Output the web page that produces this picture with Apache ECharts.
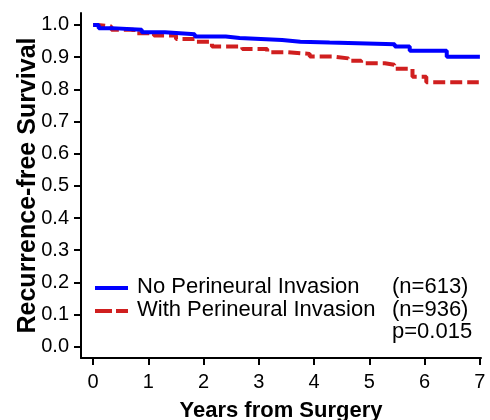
<!DOCTYPE html>
<html>
<head>
<meta charset="utf-8">
<script src="https://cdn.jsdelivr.net/npm/echarts@6/dist/echarts.min.js"></script>
<style>html,body{margin:0;padding:0;background:#fff}#c{width:490px;height:420px}</style>
</head>
<body>
<div id="c"></div>
<script>
var xTicks = [0, 1, 2, 3, 4, 5, 6, 7];
var yTicks = [0, 0.1, 0.2, 0.3, 0.4, 0.5, 0.6, 0.7, 0.8, 0.9, 1.0];

var noPniTimes  = [0, 0.1, 0.34, 0.88, 1.3, 1.84, 2.4, 2.65, 3.42, 3.75, 4.28, 5.46, 5.73, 6.40, 7.0];
var noPniValues = [1.0, 0.990, 0.985, 0.977, 0.971, 0.964, 0.959, 0.953, 0.948, 0.945, 0.940, 0.933, 0.920, 0.901, 0.901];

var pniTimes  = [0, 0.08, 0.33, 0.73, 1.1, 1.5, 1.87, 2.15, 2.7, 3.15, 3.52, 3.92, 4.33, 4.62, 4.85, 5.28, 5.45, 5.78, 6.03, 6.98];
var pniValues = [1.0, 0.995, 0.985, 0.974, 0.967, 0.956, 0.948, 0.933, 0.925, 0.915, 0.910, 0.902, 0.896, 0.889, 0.881, 0.876, 0.864, 0.839, 0.822, 0.822];

var legendNames = ['No Perineural Invasion', 'With Perineural Invasion'];
var legendCounts = ['(n=613)', '(n=936)'];
var pText = 'p=0.015';

function pairs(t, v) { return t.map(function (x, i) { return [x, v[i]]; }); }

var FONT = '"Liberation Sans", Arial, sans-serif';
var BLUE = '#0000ff';
var RED = '#d01f1f';

var chart = echarts.init(document.getElementById('c'), null, {renderer: 'canvas'});
chart.setOption({
  animation: false,
  grid: {left: 81, right: 9, top: 13, bottom: 62, containLabel: false, outerBoundsMode: 'none'},
  xAxis: {
    type: 'value', min: -0.22, max: 7.02,
    name: 'Years from Surgery', nameLocation: 'middle', nameGap: 42, nameMoveOverlap: false,
    nameTextStyle: {fontFamily: FONT, fontSize: 22, fontWeight: 'bold', color: '#000'},
    axisLine: {show: true, onZero: false, lineStyle: {color: '#000', width: 2}},
    axisTick: {show: true, length: 7, lineStyle: {color: '#000', width: 2}, customValues: xTicks},
    axisLabel: {fontFamily: FONT, fontSize: 20, color: '#000', margin: 14, customValues: xTicks},
    splitLine: {show: false}
  },
  yAxis: {
    type: 'value', min: -0.035, max: 1.037,
    name: 'Recurrence-free Survival', nameLocation: 'middle', nameGap: 40, nameMoveOverlap: false,
    nameTextStyle: {fontFamily: FONT, fontSize: 25, fontWeight: 'bold', color: '#000'},
    axisLine: {show: true, onZero: false, lineStyle: {color: '#000', width: 2}},
    axisTick: {show: true, length: 7, lineStyle: {color: '#000', width: 2}, customValues: yTicks},
    axisLabel: {fontFamily: FONT, fontSize: 20, color: '#000', margin: 12, customValues: yTicks,
      formatter: function (v) { return v.toFixed(1); }},
    splitLine: {show: false}
  },
  series: [
    {type: 'line', name: legendNames[0], step: 'end', symbol: 'none',
     data: pairs(noPniTimes, noPniValues), lineStyle: {color: BLUE, width: 4}, z: 3},
    {type: 'line', name: legendNames[1], step: 'end', symbol: 'none',
     data: pairs(pniTimes, pniValues), lineStyle: {color: RED, width: 4, type: [12, 5]}, z: 2}
  ],
  graphic: [
    {type: 'line', shape: {x1: 95, y1: 288, x2: 128, y2: 288}, style: {stroke: BLUE, lineWidth: 4}},
    {type: 'line', shape: {x1: 95, y1: 311, x2: 128, y2: 311}, style: {stroke: RED, lineWidth: 4, lineDash: [17, 4]}},
    {type: 'text', left: 137, top: 276, style: {text: legendNames[0], font: '22px ' + FONT, fill: '#000'}},
    {type: 'text', left: 137, top: 299, style: {text: legendNames[1], font: '22px ' + FONT, fill: '#000'}},
    {type: 'text', left: 392, top: 276, style: {text: legendCounts[0], font: '22px ' + FONT, fill: '#000'}},
    {type: 'text', left: 392, top: 299, style: {text: legendCounts[1], font: '22px ' + FONT, fill: '#000'}},
    {type: 'text', left: 392, top: 321, style: {text: pText, font: '22px ' + FONT, fill: '#000'}}
  ]
});
</script>
</body>
</html>
